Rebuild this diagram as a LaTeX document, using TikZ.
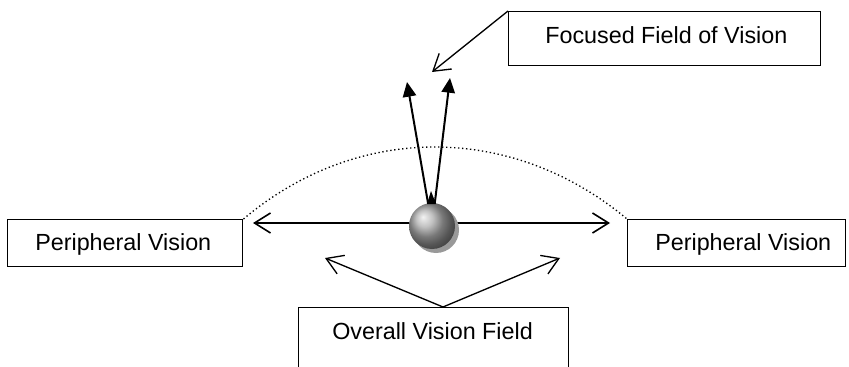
\documentclass[tikz,border=0pt]{standalone}
\usepackage{fontspec}
\setmainfont{Liberation Sans}
\usetikzlibrary{positioning, arrows.meta, shadings}

\begin{document}
\begin{tikzpicture}[x=0.75pt, y=-0.75pt,
	visionbox/.style={draw, line width=1.1pt, anchor=north west, inner sep=0pt},
	boxtext/.style={font=\fontsize{17.5}{21}\selectfont, anchor=base west, inner sep=0pt},
	openarrow/.style={-{Straight Barb[length=12pt, width=15pt]}, line width=1pt},
	spanarrow/.style={{Straight Barb[length=12pt, width=15pt]}-{Straight Barb[length=12pt, width=15pt]}, line width=1.2pt},
	viewarrow/.style={-{Triangle[length=11pt, width=10pt]}, line width=1.5pt}]
	\useasboundingbox (0,0) rectangle (849,367);
	\clip (0,0) rectangle (849,367);
	% Label boxes
	\node[visionbox, minimum width=234pt, minimum height=40.5pt] (focusbox) at (508,11) {};
	\node[boxtext] (focustext) at (545,43.5) {Focused Field of Vision};
	\node[visionbox, minimum width=176.25pt, minimum height=35.25pt] (perLbox) at (7,219) {};
	\node[boxtext] (perLtext) at (35,250) {Peripheral Vision};
	\node[visionbox, minimum width=163.5pt, minimum height=35.25pt] (perRbox) at (627,219) {};
	\node[boxtext] (perRtext) at (655,250) {Peripheral Vision};
	\node[visionbox, minimum width=202.5pt, minimum height=60pt] (overbox) at (298,307) {};
	\node[boxtext] (overtext) at (332,339) {Overall Vision Field};
	% Arrow ends
	\coordinate (focustip) at (432,72);
	\coordinate (viewL) at (407,82);
	\coordinate (viewR) at (450,78);
	\coordinate (spanL) at (253,223);
	\coordinate (spanR) at (610,223);
	\coordinate (overapex) at (443,307);
	\coordinate (overL) at (325,258);
	\coordinate (overR) at (560,258);
	\coordinate (eyecentre) at (432,226);
	% Dotted field arc
	\draw[dotted, line width=1pt] (perLbox.north east) .. controls (357,123) and (512,123) .. (perRbox.north west);
	% Connectors
	\draw[openarrow] (focusbox.north west) -- (focustip);
	\draw[spanarrow] (spanL) -- (spanR);
	\draw[viewarrow] (eyecentre) -- (viewL);
	\draw[viewarrow] (eyecentre) -- (viewR);
	\draw[openarrow] (overapex) -- (overL);
	\draw[openarrow] (overapex) -- (overR);
	% Eye with shadow
	\fill[gray!80] (436,230) circle (23);
	\node[circle, minimum size=34.5pt, inner sep=0pt, shading=ball, ball color=gray!65] (eye) at (eyecentre) {};
	\fill (427,204) -- (436,204) -- (431,191) -- cycle;
\end{tikzpicture}
\end{document}
